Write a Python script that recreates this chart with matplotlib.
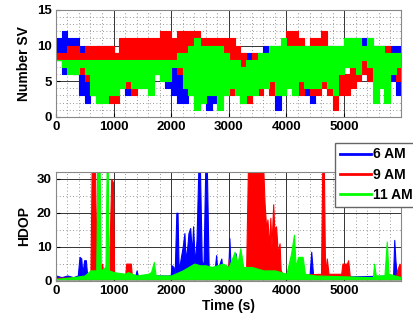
import numpy as np
import matplotlib.pyplot as plt
from matplotlib.lines import Line2D
from matplotlib.ticker import MultipleLocator

plt.rcParams['font.family'] = ['Liberation Sans', 'DejaVu Sans']
plt.rcParams['font.weight'] = 'bold'

# Number of satellites: envelope (low / high) per 100 s bin
t_bins = np.arange(0, 6000, 100)
sv_6am_lo = [8, 6, 7, 6, 3, 2, 3, 4, 4, 3, 4, 4, 3, 4, 4, 5, 5, 6, 5, 4,
             3, 2, 2, 3, 2, 2, 1, 2, 3, 3, 5, 6, 4, 5, 6, 7, 9, 9, 1, 3,
             6, 5, 5, 3, 2, 4, 5, 5, 5, 6, 7, 7, 7, 6, 5, 7, 8, 4, 5, 3]
sv_6am_hi = [11, 12, 11, 11, 10, 10, 9, 10, 10, 10, 9, 9, 10, 10, 10, 9, 9, 10, 10, 11,
             9, 8, 8, 9, 9, 8, 9, 9, 9, 10, 9, 9, 9, 9, 9, 9, 10, 10, 10, 9,
             10, 10, 10, 10, 10, 10, 10, 10, 10, 10, 11, 11, 11, 11, 11, 10, 10, 10, 10, 10]
sv_9am_lo = [8, 7, 7, 6, 6, 5, 3, 2, 4, 2, 2, 5, 4, 3, 4, 4, 6, 6, 6, 7,
             7, 6, 6, 5, 6, 4, 3, 4, 2, 4, 3, 5, 2, 2, 3, 3, 4, 3, 3, 4,
             5, 3, 3, 4, 3, 3, 4, 3, 1, 3, 3, 4, 5, 6, 5, 6, 7, 5, 7, 5]
sv_9am_hi = [9, 9, 10, 10, 9, 10, 10, 10, 10, 10, 9, 11, 11, 11, 11, 11, 11, 11, 12, 12,
             11, 12, 12, 12, 12, 11, 11, 11, 11, 11, 11, 10, 9, 8, 9, 8, 8, 8, 8, 8,
             12, 12, 11, 10, 11, 11, 12, 10, 8, 8, 6, 7, 8, 10, 10, 10, 10, 10, 9, 9]
sv_11am_lo = [8, 7, 6, 6, 7, 6, 3, 2, 2, 3, 3, 4, 5, 4, 4, 4, 3, 6, 5, 5,
              7, 7, 4, 3, 1, 2, 3, 3, 1, 3, 4, 3, 2, 3, 3, 4, 4, 5, 3, 3,
              4, 3, 5, 4, 4, 4, 5, 4, 3, 6, 7, 7, 6, 8, 7, 2, 4, 2, 6, 7]
sv_11am_hi = [8, 8, 8, 8, 8, 8, 8, 8, 8, 8, 8, 8, 8, 8, 8, 8, 8, 8, 8, 8,
              8, 9, 9, 10, 11, 10, 10, 10, 10, 9, 8, 8, 7, 8, 8, 9, 9, 10, 10, 11,
              10, 10, 10, 10, 10, 10, 10, 10, 10, 10, 11, 11, 11, 10, 11, 10, 10, 9, 9, 9]

# HDOP: (time, value) points
hdop_6am_t = [0, 100, 200, 300, 380, 410, 440, 460, 490, 520, 540, 600, 1380, 1400, 1420,
              1990, 2010, 2040, 2060, 2090, 2110, 2130, 2200, 2230, 2250, 2280, 2300, 2330,
              2360, 2380, 2410, 2440, 2470, 2500, 2530, 2560, 2590, 2620, 2650, 2760, 2780,
              2800, 2870, 2890, 2990, 3010, 3030, 3120, 3140, 3200, 4400, 4430, 4460, 4500,
              5850, 5870, 5890, 5910, 5990]
hdop_6am_v = [1.5, 1, 1.5, 1, 1.5, 7, 6.5, 2, 6, 6, 2, 1.5, 1.5, 3, 1.5,
              1.5, 4.5, 4, 1.5, 20, 20, 3, 10, 14, 6, 10, 14, 15.5,
              8, 16, 5, 12, 32, 32, 6, 4, 32, 32, 4, 4, 7.5,
              3, 6.5, 3, 3, 12.5, 4, 8, 3, 1.5, 1.5, 8.5, 2, 1,
              1.5, 12, 6, 2, 2]
hdop_9am_t = [0, 580, 600, 620, 680, 700, 720, 740, 760, 800, 830, 900, 920, 960, 990,
              1010, 1200, 1220, 1300, 1320, 2980, 3000, 3020, 3300, 3330, 3600, 3620,
              3650, 3670, 3700, 3720, 3740, 3770, 3790, 3820, 3850, 3880, 3900, 3950,
              4600, 4620, 4650, 4670, 4700, 4730, 4950, 4970, 5050, 5070, 5100, 5900,
              5920, 5960, 5990]
hdop_9am_v = [0.8, 1, 3, 32, 32, 4, 32, 32, 4, 5, 2, 6.5, 2, 30, 29,
              2, 1, 5, 5, 1, 1, 6.5, 1, 3, 32, 32, 23,
              15, 18, 10, 18.5, 10, 22.5, 15, 16, 8, 11, 3, 1.5,
              2, 32, 32, 2, 6.5, 2, 2, 5, 5, 6, 1, 1,
              3, 5, 4]
hdop_11am_t = [0, 300, 500, 600, 700, 720, 760, 780, 860, 880, 900, 920, 1000, 1200, 1250,
               1400, 1600, 1650, 1700, 1730, 2000, 2200, 2300, 2400, 2500, 2600, 2700,
               2800, 2900, 3000, 3100, 3150, 3200, 3250, 3400, 3600, 3800, 4000, 4080,
               4130, 4160, 4200, 4280, 4320, 4500, 5500, 5520, 5550, 5700, 5740, 5770, 5990]
hdop_11am_v = [0.5, 1, 1.5, 3, 3, 32, 32, 3, 4, 32, 32, 3, 2.5, 2, 2.5,
               1.5, 2, 2.5, 5.5, 1.5, 1.5, 3, 4, 5, 4.5, 4.5, 4,
               4.5, 5, 4, 8.5, 5, 9.5, 4, 4, 3, 3, 2, 8,
               13.5, 4, 7, 7, 2, 1.5, 1, 5, 1.5, 1.5, 11.5, 2, 1]

labels = ['6 AM', '9 AM', '11 AM']
colors = ['#0000ff', '#ff0000', '#00ff00']

fig = plt.figure(figsize=(4.14, 3.21), dpi=100)
ax1 = fig.add_axes([0.135, 0.636, 0.834, 0.333])
ax2 = fig.add_axes([0.135, 0.126, 0.834, 0.338])

t_edges = np.append(t_bins, 5990)
sv = [(sv_6am_lo, sv_6am_hi), (sv_9am_lo, sv_9am_hi), (sv_11am_lo, sv_11am_hi)]
for (lo, hi), c in zip(sv, colors):
    lo = np.append(lo, lo[-1])
    hi = np.append(hi, hi[-1])
    ax1.fill_between(t_edges, lo, hi, step='post', color=c, lw=0.8, edgecolor=c)

hd = [(hdop_6am_t, hdop_6am_v), (hdop_9am_t, hdop_9am_v), (hdop_11am_t, hdop_11am_v)]
for (t, v), c in zip(hd, colors):
    ax2.fill_between(t, 0.4, v, color=c, lw=0.8, edgecolor=c)

for ax in (ax1, ax2):
    ax.set_xlim(0, 5990)
    ax.set_xticks([0, 1000, 2000, 3000, 4000, 5000])
    ax.xaxis.set_minor_locator(MultipleLocator(200))
    ax.set_axisbelow(True)
    ax.grid(which='major', color='#333333', lw=0.7, ls='-')
    ax.grid(which='minor', color='#777777', lw=0.6, ls=(0, (1, 3)))
    ax.tick_params(which='both', direction='in', labelsize=9.5, length=3, pad=3)
    ax.tick_params(which='minor', length=0)
    for s in ax.spines.values():
        s.set_color('#888888')
    for lab in ax.get_xticklabels() + ax.get_yticklabels():
        lab.set_fontweight('bold')

ax1.set_ylim(0, 15)
ax1.set_yticks([0, 5, 10, 15])
ax1.yaxis.set_minor_locator(MultipleLocator(1))
ax1.set_ylabel('Number SV', fontsize=10, fontweight='bold', labelpad=4)

ax2.set_ylim(0, 32)
ax2.set_yticks([0, 10, 20, 30])
ax2.yaxis.set_minor_locator(MultipleLocator(5))
ax2.set_ylabel('HDOP', fontsize=10, fontweight='bold', labelpad=4)
ax2.set_xlabel('Time (s)', fontsize=10, fontweight='bold', labelpad=2)

handles = [Line2D([], [], color=c, lw=2) for c in colors]
leg = fig.legend(handles, labels, loc='upper left', bbox_to_anchor=(0.81, 0.556),
                 fancybox=False, framealpha=1, edgecolor='#666666', fontsize=10,
                 handlelength=2.2, handletextpad=0.15, borderpad=0.35, labelspacing=0.45,
                 borderaxespad=0)
for txt in leg.get_texts():
    txt.set_fontweight('bold')

fig.savefig('out.png', dpi=100)
